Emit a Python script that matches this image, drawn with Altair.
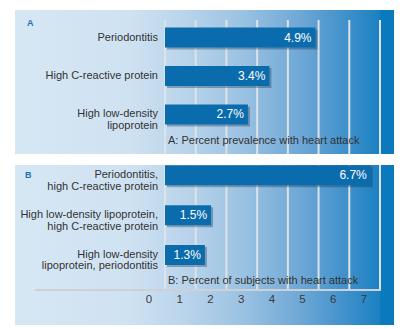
import altair as alt
import pandas as pd

# ---- data ----
cats_a = ["Periodontitis", "High C-reactive protein", "High low-density\nlipoprotein"]
vals_a = [4.9, 3.4, 2.7]
cats_b = ["Periodontitis,\nhigh C-reactive protein",
          "High low-density lipoprotein,\nhigh C-reactive protein",
          "High low-density\nlipoprotein, periodontitis"]
vals_b = [6.7, 1.5, 1.3]
ticks = [0, 1, 2, 3, 4, 5, 6, 7]
note_a = "A: Percent prevalence with heart attack"
note_b = "B: Percent of subjects with heart attack"

FONT = "Liberation Sans"
W = 379
XS = alt.Scale(domain=[-4.884, 7.456], nice=False, zero=False)
BAR = "#0b6cad"
TXT = "#333333"

grad = alt.LinearGradient(
    gradient="linear", x1=0, x2=1, y1=0, y2=0,
    stops=[
        alt.GradientStop(color="#d6e7f4", offset=0),
        alt.GradientStop(color="#cfe2f2", offset=0.3),
        alt.GradientStop(color="#b9d4eb", offset=0.45),
        alt.GradientStop(color="#9bc2e2", offset=0.6),
        alt.GradientStop(color="#6fa8d6", offset=0.75),
        alt.GradientStop(color="#3d8fca", offset=0.88),
        alt.GradientStop(color="#1b81c1", offset=0.962),
        alt.GradientStop(color="#0a79bd", offset=0.965),
        alt.GradientStop(color="#0a79bd", offset=1.0),
    ],
)


def panel(cats, vals, height, yrange, pin, g_top, g_bot, letter, lpos, note, note_y, show_ticks):
    df = pd.DataFrame({"c": cats, "v": vals, "lbl": [f"{v}%" for v in vals]})
    tdf = pd.DataFrame({"t": ticks})
    ys = alt.Scale(domain=cats, range=yrange, paddingInner=pin, paddingOuter=0)
    Y = alt.Y("c:N", scale=ys, axis=None)

    bg = alt.Chart(pd.DataFrame({"a": [0]})).mark_rect(fill=grad).encode(
        x=alt.value(0), x2=alt.value(W), y=alt.value(0), y2=alt.value(height))

    grid = alt.Chart(tdf).mark_rule(color="#dde2e6", strokeWidth=2).encode(
        x=alt.X("t:Q", scale=XS, axis=None), y=alt.value(g_top), y2=alt.value(g_bot))

    shadow = alt.Chart(df).mark_bar(color="#14304a", opacity=0.35, xOffset=2, x2Offset=2,
                                    yOffset=2, y2Offset=2).encode(
        x=alt.X("v:Q", scale=XS, axis=None), y=Y)

    bars = alt.Chart(df).mark_bar(color=BAR).encode(
        x=alt.X("v:Q", scale=XS, axis=None), y=Y)

    vtxt = alt.Chart(df).mark_text(align="right", baseline="middle", dx=-4, color="white",
                                   font=FONT, fontSize=12).encode(
        x=alt.X("v:Q", scale=XS, axis=None), y=Y, text="lbl:N")

    ctxt = alt.Chart(df).mark_text(align="right", baseline="middle", color=TXT, font=FONT,
                                   fontSize=11, lineBreak="\n", lineHeight=11.5).encode(
        x=alt.value(143), y=Y, text="c:N")

    lt = alt.Chart(pd.DataFrame({"s": [letter]})).mark_text(
        align="left", baseline="middle", color="#1f70b3", font=FONT, fontSize=9,
        fontWeight="bold").encode(x=alt.value(lpos[0]), y=alt.value(lpos[1]), text="s:N")

    nt = alt.Chart(pd.DataFrame({"s": [note], "x0": [0]})).mark_text(
        align="left", baseline="middle", dx=3, color=TXT, font=FONT, fontSize=11).encode(
        x=alt.X("x0:Q", scale=XS, axis=None), y=alt.value(note_y), text="s:N")

    layers = [bg, grid]
    if show_ticks:
        hline = alt.Chart(pd.DataFrame({"a": [0]})).mark_rule(color="#cdd1d4", strokeWidth=2).encode(
            x=alt.value(20), x2=alt.value(366), y=alt.value(g_bot), y2=alt.value(g_bot))
        tl = alt.Chart(tdf).mark_text(align="center", baseline="middle", dx=-16, color="#3a3a3a",
                                      font=FONT, fontSize=11.5).encode(
            x=alt.X("t:Q", scale=XS, axis=None), y=alt.value(135), text="t:Q")
        layers += [hline, tl]
    layers += [shadow, bars, vtxt, ctxt, lt, nt]
    return alt.layer(*layers).properties(width=W, height=height)


pa = panel(cats_a, vals_a, 144, [17.5, 114.5], 0.4805, 10, 144, "A", (12, 13), note_a, 131, False)
pb = panel(cats_b, vals_b, 160, [0.3, 100.0], 0.498, 0, 125, "B", (10, 10), note_b, 116, True)

chart = alt.vconcat(pa, pb, spacing=9).properties(
    padding={"left": 15, "top": 10, "right": 12, "bottom": 6},
    background="white",
).configure_view(stroke=None)

chart.save("out.html", embed_options={"renderer": "svg", "actions": False})
